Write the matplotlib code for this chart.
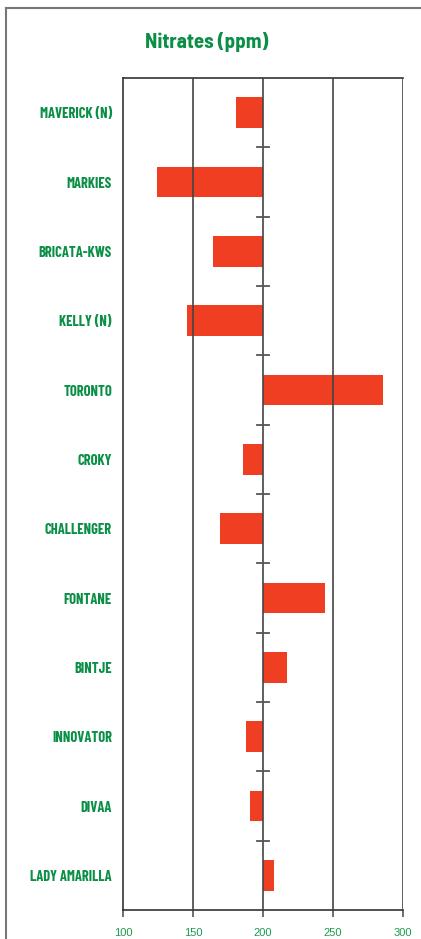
import numpy as np
import matplotlib.pyplot as plt
from matplotlib.lines import Line2D

# veriler
cesitler = ["MAVERICK (N)", "MARKIES", "BRICATA-KWS", "KELLY (N)", "TORONTO", "CROKY",
            "CHALLENGER", "FONTANE", "BINTJE", "INNOVATOR", "DIVAA", "LADY AMARILLA"]
nitrat = [181, 124, 164, 146, 285.5, 186, 169, 244, 217, 188, 191, 208]
taban = 200
x_ticks = [100, 150, 200, 250, 300]

yesil = "#0b8f47"
kirmizi = "#f03e23"
font_dar = ["Barlow Condensed", "DejaVu Sans"]
font_baslik = ["Barlow Semi Condensed", "DejaVu Sans"]

fig = plt.figure(figsize=(4.21, 9.39), dpi=100)
ax = fig.add_axes([123 / 421, 1 - 910 / 939, 280 / 421, 832 / 939])

y = np.arange(len(cesitler))
genislik = [v - taban for v in nitrat]
ax.barh(y, genislik, left=taban, height=0.44, color=kirmizi, zorder=2)

ax.set_xlim(100, 300)
ax.set_ylim(len(cesitler) - 0.5, -0.5)

# dikey izgara cizgileri
for t in x_ticks[1:]:
    ax.axvline(t, color="#444444", lw=1.2, zorder=3)

# kategoriler arasi kucuk cizgiler (200 uzerinde)
for b in np.arange(0.5, len(cesitler) - 0.5, 1):
    ax.plot([195.5, 204.5], [b, b], color="#555555", lw=1.3, zorder=3)

ax.set_xticks(x_ticks)
ax.set_xticklabels([str(t) for t in x_ticks], color="#1a9a50", fontsize=8,
                   family=["Liberation Sans", "DejaVu Sans"])
ax.tick_params(axis="x", length=5, width=1.2, color="#555555", pad=8)
ax.set_yticks(y)
ax.set_yticklabels(cesitler, color=yesil, fontsize=10.5, fontweight="bold", family=font_dar)
ax.tick_params(axis="y", length=0, pad=8)

for s in ["top", "bottom", "left"]:
    ax.spines[s].set_color("#333333")
    ax.spines[s].set_linewidth(1.2)
ax.spines["right"].set_visible(False)

fig.text(207 / 421, 1 - 42 / 939, "Nitrates (ppm)", ha="center", va="center",
         color=yesil, fontsize=15, fontweight="bold", family=font_baslik)

# dis cerceve
fig.add_artist(Line2D([6 / 421, 6 / 421], [0, 1 - 8 / 939], transform=fig.transFigure,
                      color="#777777", lw=1.5))
fig.add_artist(Line2D([6 / 421, 1], [1 - 8 / 939, 1 - 8 / 939], transform=fig.transFigure,
                      color="#777777", lw=1.5))

fig.savefig("out.png", dpi=100)
